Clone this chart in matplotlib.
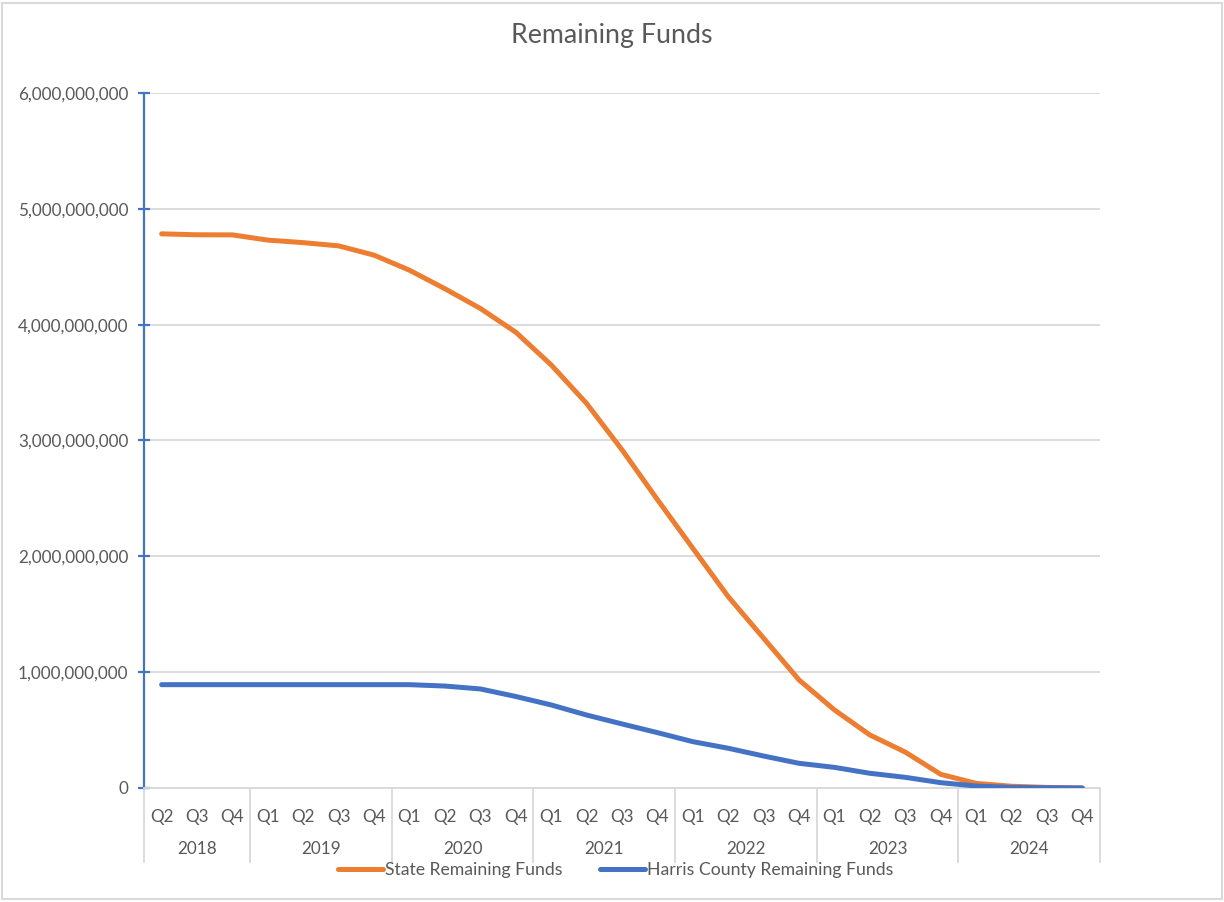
import numpy as np
import matplotlib
matplotlib.use("Agg")
import matplotlib.pyplot as plt
import matplotlib.transforms as mtransforms
from matplotlib.patches import Rectangle
from matplotlib.ticker import FuncFormatter

plt.rcParams['font.family'] = ['Lato', 'DejaVu Sans']

# data
years = ['2018', '2019', '2020', '2021', '2022', '2023', '2024']
quarters = ['Q2', 'Q3', 'Q4',
            'Q1', 'Q2', 'Q3', 'Q4',
            'Q1', 'Q2', 'Q3', 'Q4',
            'Q1', 'Q2', 'Q3', 'Q4',
            'Q1', 'Q2', 'Q3', 'Q4',
            'Q1', 'Q2', 'Q3', 'Q4',
            'Q1', 'Q2', 'Q3', 'Q4']
quarters_per_year = [3, 4, 4, 4, 4, 4, 4]

state_funds = [4.784e9, 4.776e9, 4.775e9,
               4.730e9, 4.708e9, 4.680e9, 4.600e9,
               4.470e9, 4.310e9, 4.140e9, 3.935e9,
               3.653e9, 3.320e9, 2.920e9, 2.490e9,
               2.070e9, 1.652e9, 1.293e9, 0.933e9,
               0.674e9, 0.458e9, 0.310e9, 0.118e9,
               0.040e9, 0.015e9, 0.005e9, 0.0]
harris_funds = [0.892e9, 0.892e9, 0.892e9,
                0.892e9, 0.892e9, 0.892e9, 0.892e9,
                0.892e9, 0.880e9, 0.855e9, 0.790e9,
                0.717e9, 0.630e9, 0.553e9, 0.478e9,
                0.400e9, 0.343e9, 0.276e9, 0.213e9,
                0.178e9, 0.127e9, 0.092e9, 0.046e9,
                0.017e9, 0.005e9, 0.002e9, 0.0]

orange = '#ED7D31'
blue = '#4472C4'
grey_txt = '#595959'
grey_line = '#D9D9D9'

fig = plt.figure(figsize=(12.24, 9.02), dpi=100)
ax = fig.add_axes([0.1176, 0.1264, 0.7811, 0.7705])

# chart border
fig.patches.append(Rectangle((0.002, 0.003), 0.996, 0.994, transform=fig.transFigure,
                             fill=False, edgecolor=grey_line, lw=1.5))

x = np.arange(len(quarters))
ax.plot(x, state_funds, color=orange, lw=3.6, solid_capstyle='round',
        solid_joinstyle='round', label='State Remaining Funds', zorder=3)
ax.plot(x, harris_funds, color=blue, lw=3.6, solid_capstyle='round',
        solid_joinstyle='round', label='Harris County Remaining Funds', zorder=3)

ax.set_xlim(-0.5, len(quarters) - 0.5)
ax.set_ylim(0, 6e9)
ax.set_yticks(np.arange(0, 6.01e9, 1e9))
ax.yaxis.set_major_formatter(FuncFormatter(lambda v, p: '{:,.0f}'.format(v)))
ax.grid(axis='y', color=grey_line, lw=1.3)
ax.set_axisbelow(True)

for s in ['top', 'right']:
    ax.spines[s].set_visible(False)
ax.spines['left'].set_color(blue)
ax.spines['left'].set_linewidth(1.6)
ax.spines['bottom'].set_color(grey_line)
ax.spines['bottom'].set_linewidth(1.3)

ax.tick_params(axis='y', direction='inout', length=8.6, width=1.6, color=blue,
               labelsize=12.3, labelcolor=grey_txt, pad=7)
ax.set_xticks(x)
ax.set_xticklabels(quarters)
ax.tick_params(axis='x', length=0, labelsize=12.3, labelcolor=grey_txt, pad=15)

# multi-level category axis: year separators and year labels
trans = mtransforms.blended_transform_factory(ax.transData, ax.transAxes)
bounds = np.concatenate([[0], np.cumsum(quarters_per_year)]) - 0.5
for b in bounds:
    ax.plot([b, b], [0, -0.1065], transform=trans, color=grey_line, lw=1.3,
            clip_on=False)
for i, yr in enumerate(years):
    mid = (bounds[i] + bounds[i + 1]) / 2
    ax.text(mid, -0.088, yr, transform=trans, ha='center', va='center',
            fontsize=12.3, color=grey_txt)

fig.text(0.5, 0.961, 'Remaining Funds', ha='center', va='center',
         fontsize=19.3, color=grey_txt)

leg = ax.legend(loc='center', bbox_to_anchor=(0.4934, -0.118), ncol=2, frameon=False,
                fontsize=12.7, handlelength=2.55, handletextpad=0.12, columnspacing=2.15,
                borderaxespad=0)
for t in leg.get_texts():
    t.set_color(grey_txt)

fig.savefig('out.png', dpi=100)
